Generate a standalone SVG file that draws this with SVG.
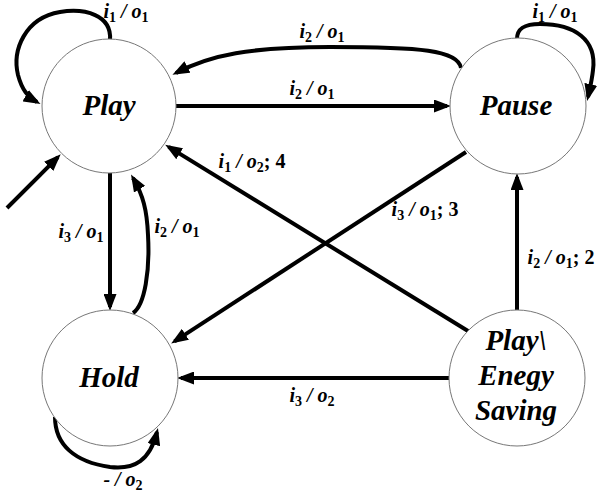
<svg xmlns="http://www.w3.org/2000/svg" width="602" height="496" viewBox="0 0 602 496">
<style>
.node{fill:#fff;stroke:#777;stroke-width:1}
.nl{font-family:"Liberation Serif","Times New Roman",serif;font-weight:bold;font-style:italic;font-size:29px;fill:#000;text-anchor:middle}
.el{font-family:"Liberation Serif","Times New Roman",serif;font-weight:bold;font-style:italic;font-size:20px;fill:#000;text-anchor:middle}
.sub{font-style:normal;font-size:14px}
.num{font-style:normal}
.edge{fill:none;stroke:#000;stroke-width:4;marker-end:url(#ah)}
</style>
<defs>
<marker id="ah" markerUnits="userSpaceOnUse" markerWidth="17" markerHeight="13" refX="13" refY="6.5" orient="auto">
<path d="M0,0 L17,6.5 L0,13 z" fill="#000"/>
</marker>
</defs>
<rect width="602" height="496" fill="#fff"/>
<g id="connectors">
<path class="edge" d="M110,40 C112,15 85,8 60,12 C25,18 12,50 18,75 C22,90 28,97 37,102"/>
<path class="edge" d="M517,39 C517,28 525,24 540,24 C575,24 597,40 593,70 C592,80 590,88 588,97"/>
<path class="edge" d="M461,68 C458,50 420,47 330,47 C250,47 210,55 176,73"/>
<path class="edge" d="M176,106 L447,106"/>
<path class="edge" d="M7,208 L57.9,157.1"/>
<path class="edge" d="M110,173 L110,307"/>
<path class="edge" d="M133,313 C145,305 150,270 148,235 C147,210 143,195 133,178"/>
<path class="edge" d="M55,417 C55,445 75,462 110,467 C135,470 150,460 157,432"/>
<path class="edge" d="M466,152 L174.5,341.4"/>
<path class="edge" d="M468,331 L168.6,146.9"/>
<path class="edge" d="M517,310 L517,177"/>
<path class="edge" d="M449,378 L181,378"/>
<text class="el" x="126" y="18">i<tspan class="sub" dy="4">1</tspan><tspan dy="-4"> / o</tspan><tspan class="sub" dy="4">1</tspan></text>
<text class="el" x="555" y="18">i<tspan class="sub" dy="4">1</tspan><tspan dy="-4"> / o</tspan><tspan class="sub" dy="4">1</tspan></text>
<text class="el" x="322" y="38">i<tspan class="sub" dy="4">2</tspan><tspan dy="-4"> / o</tspan><tspan class="sub" dy="4">1</tspan></text>
<text class="el" x="312" y="95">i<tspan class="sub" dy="4">2</tspan><tspan dy="-4"> / o</tspan><tspan class="sub" dy="4">1</tspan></text>
<text class="el" x="81" y="238">i<tspan class="sub" dy="4">3</tspan><tspan dy="-4"> / o</tspan><tspan class="sub" dy="4">1</tspan></text>
<text class="el" x="177" y="233">i<tspan class="sub" dy="4">2</tspan><tspan dy="-4"> / o</tspan><tspan class="sub" dy="4">1</tspan></text>
<text class="el" x="123" y="486">- / o<tspan class="sub" dy="4">2</tspan></text>
<text class="el" x="252" y="168">i<tspan class="sub" dy="4">1</tspan><tspan dy="-4"> / o</tspan><tspan class="sub" dy="4">2</tspan><tspan class="num" dy="-4">; 4</tspan></text>
<text class="el" x="425" y="216">i<tspan class="sub" dy="4">3</tspan><tspan dy="-4"> / o</tspan><tspan class="sub" dy="4">1</tspan><tspan class="num" dy="-4">; 3</tspan></text>
<text class="el" x="561" y="264">i<tspan class="sub" dy="4">2</tspan><tspan dy="-4"> / o</tspan><tspan class="sub" dy="4">1</tspan><tspan class="num" dy="-4">; 2</tspan></text>
<text class="el" x="312" y="402">i<tspan class="sub" dy="4">3</tspan><tspan dy="-4"> / o</tspan><tspan class="sub" dy="4">2</tspan></text>
</g>
<g id="play"><circle class="node" cx="109" cy="106" r="67"/><text class="nl" x="109" y="115">Play</text></g>
<g id="pause"><circle class="node" cx="518" cy="106" r="68"/><text class="nl" x="516" y="115">Pause</text></g>
<g id="hold"><circle class="node" cx="110" cy="378" r="68"/><text class="nl" x="109" y="387">Hold</text></g>
<g id="energy"><circle class="node" cx="517" cy="378" r="68"/><text class="nl" x="516" y="350">Play\</text><text class="nl" x="516" y="385">Enegy</text><text class="nl" x="516" y="420">Saving</text></g>
</svg>
